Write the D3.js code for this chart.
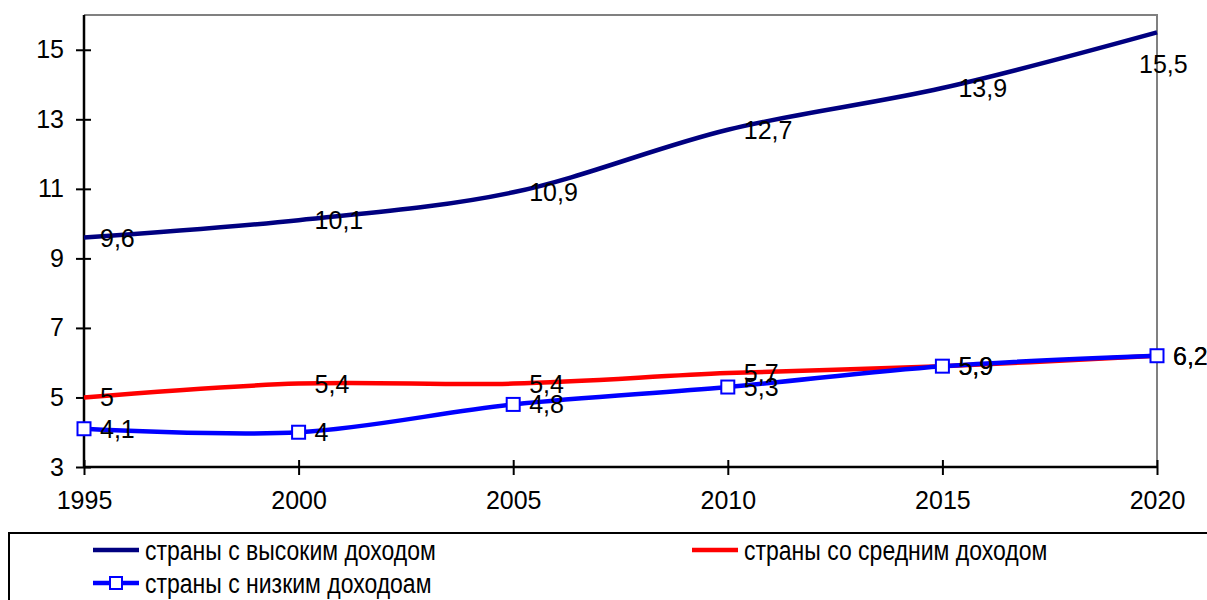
<!DOCTYPE html>
<html>
<head>
<meta charset="utf-8">
<script src="https://cdn.jsdelivr.net/npm/d3@7"></script>
<style>
  html, body { margin: 0; padding: 0; background: #fff; }
  svg { display: block; font-family: "Liberation Sans", Arial, sans-serif; }
</style>
</head>
<body>
<svg id="chart" width="1207" height="600"></svg>
<script>
// Years on the horizontal axis
const years = [1995, 2000, 2005, 2010, 2015, 2020];
// Series values
const highIncome = [9.6, 10.1, 10.9, 12.7, 13.9, 15.5];
const middleIncome = [5, 5.4, 5.4, 5.7, 5.9, 6.2];
const lowIncome = [4.1, 4.0, 4.8, 5.3, 5.9, 6.2];
// Axis ticks
const yTicks = [3, 5, 7, 9, 11, 13, 15];
// Legend labels
const seriesNames = ["страны с высоким доходом", "страны со средним доходом", "страны с низким доходоам"];

const series = [
  { name: seriesNames[0], values: highIncome, color: "#000080", marker: false },
  { name: seriesNames[1], values: middleIncome, color: "#ff0000", marker: false },
  { name: seriesNames[2], values: lowIncome, color: "#0000ff", marker: true }
];

const svg = d3.select("#chart");
const plotL = 84, plotR = 1157, plotT = 15, plotB = 467;

const x = d3.scaleLinear().domain([1995, 2020]).range([plotL, plotR]);
const y = d3.scaleLinear().domain([3, 16]).range([plotB, plotT]);

// Plot frame: grey top and right edges
svg.append("path")
  .attr("d", `M${plotL},${plotT}H${plotR}V${plotB}`)
  .attr("fill", "none").attr("stroke", "#808080").attr("stroke-width", 2);

// Y axis
const yAxis = svg.append("g").attr("transform", `translate(${plotL},0)`)
  .call(d3.axisLeft(y).tickValues(yTicks).tickSize(8).tickPadding(12).tickFormat(d3.format("d")));
yAxis.select(".domain").attr("d", `M0,${plotT}V${plotB}`).attr("stroke", "#000").attr("stroke-width", 2.5);
yAxis.selectAll(".tick line").attr("x2", -8).attr("x1", 7).attr("stroke", "#000").attr("stroke-width", 2);
yAxis.selectAll(".tick text").attr("x", -20).attr("font-size", 25).attr("font-family", "Liberation Sans, Arial, sans-serif").attr("fill", "#000");

// X axis
const xAxis = svg.append("g").attr("transform", `translate(0,${plotB})`)
  .call(d3.axisBottom(x).tickValues(years).tickSize(8).tickPadding(12).tickFormat(d3.format("d")));
xAxis.select(".domain").attr("d", `M${plotL},0H${plotR}`).attr("stroke", "#000").attr("stroke-width", 2.5);
xAxis.selectAll(".tick line").attr("y1", -7).attr("y2", 8).attr("stroke", "#000").attr("stroke-width", 2);
xAxis.selectAll(".tick text").attr("y", 24).attr("dy", "0.71em").attr("font-size", 25).attr("font-family", "Liberation Sans, Arial, sans-serif").attr("fill", "#000");

// Smoothed lines
const line = d3.line()
  .x((d, i) => x(years[i]))
  .y(d => y(d))
  .curve(d3.curveCardinal.tension(0));

series.forEach(s => {
  svg.append("path")
    .datum(s.values)
    .attr("d", line)
    .attr("fill", "none")
    .attr("stroke", s.color)
    .attr("stroke-width", 4.5)
    .attr("stroke-linejoin", "round");
});

// Square markers on the low-income series
const low = series[2];
svg.append("g").selectAll("rect")
  .data(low.values)
  .join("rect")
  .attr("x", (d, i) => x(years[i]) - 6.5)
  .attr("y", d => y(d) - 6.5)
  .attr("width", 13).attr("height", 13)
  .attr("fill", "#fff")
  .attr("stroke", low.color)
  .attr("stroke-width", 2);

// Value labels
const fmt = v => String(v).replace(".", ",");
series.forEach((s, si) => {
  svg.append("g").selectAll("text")
    .data(s.values)
    .join("text")
    .attr("x", (d, i) => (si === 0 && i === years.length - 1) ? x(years[i]) - 18 : x(years[i]) + 16)
    .attr("y", (d, i) => (si === 0 && i === years.length - 1) ? y(d) + 32 : y(d))
    .attr("dy", "0.36em")
    .attr("font-size", 25)
    .attr("fill", "#000")
    .text(d => fmt(d));
});

// Legend
const legend = svg.append("g");
legend.append("rect")
  .attr("x", 9).attr("y", 533).attr("width", 1220).attr("height", 80)
  .attr("fill", "#fff").attr("stroke", "#000").attr("stroke-width", 2);

const legendPos = [
  { lx: 93, ly: 550 },
  { lx: 692, ly: 550 },
  { lx: 93, ly: 583 }
];
series.forEach((s, i) => {
  const p = legendPos[i];
  legend.append("line")
    .attr("x1", p.lx).attr("x2", p.lx + 46)
    .attr("y1", p.ly).attr("y2", p.ly)
    .attr("stroke", s.color).attr("stroke-width", 4.5);
  if (s.marker) {
    legend.append("rect")
      .attr("x", p.lx + 23 - 6).attr("y", p.ly - 6)
      .attr("width", 12).attr("height", 12)
      .attr("fill", "#fff").attr("stroke", s.color).attr("stroke-width", 2);
  }
  // legend captions are set slightly taller than wide
  legend.append("text")
    .attr("transform", `translate(${p.lx + 52},${p.ly}) scale(1,1.17)`)
    .attr("dy", "0.36em")
    .attr("font-size", 23)
    .attr("fill", "#000")
    .text(s.name);
});
</script>
</body>
</html>
